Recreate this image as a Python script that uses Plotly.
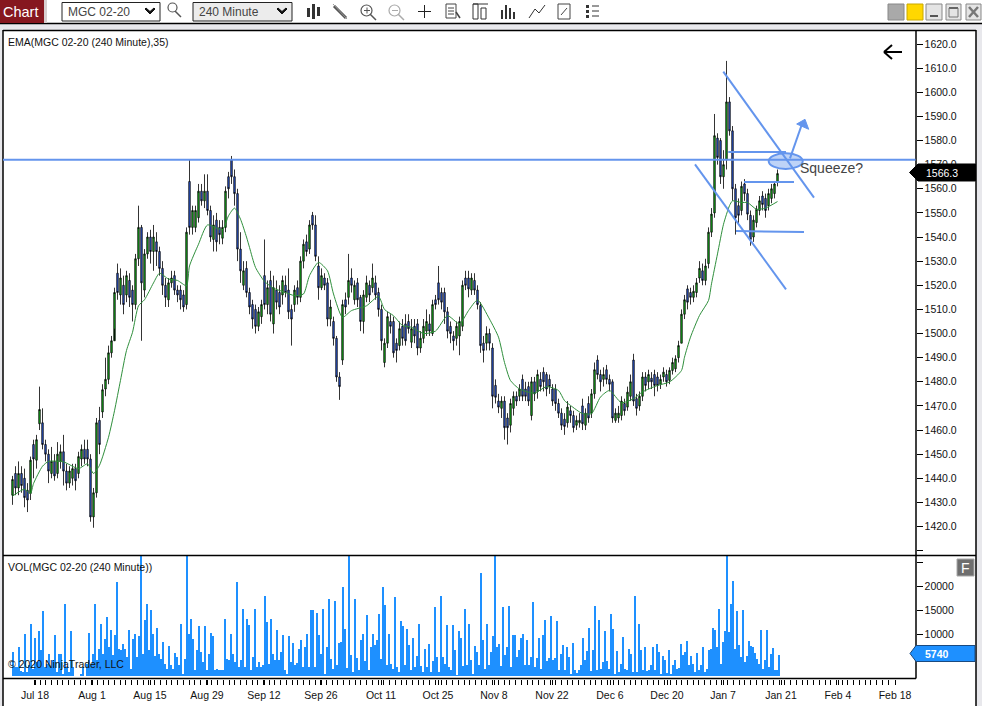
import numpy as np
import plotly.graph_objects as go

W, H = 982, 706

opens = [1433,1442,1436,1442,1440,1435,1433.7,1454,1447.5,1462.6,1463,1454,1450,1442,1447,1442,1447,1451,1443,1438,
 1440,1444,1442,1448,1452,1452,1448,1424,1434,1464,1467.5,1477,1481,1492,1497,1525,1516,1520,1516,1522,
 1518,1512,1531,1544,1518,1533,1540,1534,1538,1534,1527,1520,1514,1521,1524,1518,1518,1516,1512,1563,
 1544,1544,1548,1559,1555,1559,1551,1539,1547,1544,1539.5,1544,1565,1572,1565,1558,1535,1520,1527,1517,
 1512,1510,1503,1507,1524,1512,1522,1504,1518,1517,1516,1520,1518,1510,1512,1519,1515,1530,1538,1535,
 1549,1545,1528,1519,1523,1521,1506,1505,1498,1482,1489,1514,1515,1523,1514,1521,1515,1505,1515,1520,
 1519,1521,1517,1510,1488,1496,1505,1505,1496,1495,1503,1504,1505,1496.4,1503,1504,1494,1498,1501,1504,
 1500,1514,1521,1517,1517,1509,1503,1499,1498,1499,1503,1523,1523,1518,1522,1518,1511.6,1496,1496,1500,
 1494,1478.5,1472,1469,1472,1465,1462,1469,1474,1474,1481,1477,1478,1466,1480,1476,1481,1484,1483,1481,
 1477,1477,1471,1467,1464.5,1463,1468,1466,1462,1463,1470,1462,1471,1467,1475,1489,1483,1481,1485,1481,
 1480,1464,1465,1466,1471,1469.5,1474,1489,1473,1470,1474,1482,1480,1481.5,1483,1482,1479,1482,1483,1480.6,
 1484.7,1485.4,1490,1496,1508,1518.5,1517,1515,1517,1523,1526,1522,1529,1542,1550,1581,1580,1565,1572,1596,
 1584,1560,1553,1551,1562,1558,1549,1540,1546,1551,1557,1556,1553,1556,1558,1562.6]
highs = [1441,1445,1447,1445,1444,1438,1449,1456,1458,1478,1469,1456,1452,1453,1450,1455,1454,1458,1446,1445,
 1446,1446,1451,1454,1456,1456,1450,1436,1465,1469.6,1479,1490,1495,1499,1519,1529,1527,1524,1526,1525,
 1520,1533,1553,1545,1535,1542,1543,1545,1542,1536,1530,1523,1523,1526,1526,1520,1520,1518,1544,1572,
 1553,1553,1562,1562,1566,1566,1553,1549,1550,1547,1547,1561,1567,1573.6,1568,1560,1542,1530,1530,1519,
 1514,1512,1511,1514,1539,1522,1526,1524,1522,1520,1524,1524,1527,1512,1520,1522,1532,1539,1541,1547,
 1550.4,1549,1532,1527,1525,1523,1514,1507,1499,1484,1514,1517,1533,1527,1522,1523,1516,1518,1524,1522,
 1529,1524,1519,1512,1498,1509,1508,1507,1498,1505,1506,1508,1508,1506,1506,1506,1501,1506,1510,1508,
 1514,1516,1528,1519,1519,1511,1505,1501,1505,1507,1522,1526,1526,1525,1525,1520,1513,1499,1503,1502,
 1496,1481,1475,1474,1474,1467,1473,1476,1476,1479,1483,1480,1480,1482,1482,1485,1484,1486,1484,1483,
 1479,1479,1473,1469,1467,1472,1470,1468,1466,1467,1473,1469,1474,1477,1488,1491,1485,1486,1487,1483,
 1481,1469,1470,1474,1473,1478,1483,1491.6,1475,1476,1484,1484,1485,1484,1485,1484,1483,1486,1485,1486,
 1490,1491,1497,1510,1516,1520,1519,1520,1523,1530,1529,1531,1544,1552,1591,1583,1581,1576,1613,1598,
 1586,1562,1556,1563,1564,1560,1551,1549,1553,1557,1559,1558,1560,1562,1563,1568]
lows = [1429,1433,1433,1434,1428,1426,1431,1440,1444,1460,1452,1447,1438,1440,1439,1440,1444,1437,1435,1436,
 1437,1435,1440,1445,1446,1445,1422,1419.5,1432,1450,1465,1474,1479,1490,1502,1514,1512,1508,1513,1511,
 1505,1510,1528,1497,1515,1531,1529,1526,1528,1524,1516,1511,1511,1519,1516,1513,1510,1509,1510,1541,
 1541,1542,1546,1553,1552,1549,1538,1534,1534,1537,1537,1542,1556,1562,1553,1530,1521,1518,1515,1508,
 1502,1500,1501,1504,1510,1508,1505,1500,1510,1508,1512,1515,1506,1495,1509,1512,1513,1527,1532,1533,
 1543,1530,1514,1518,1518,1503,1503,1495,1480,1472.5,1487,1508,1512,1517,1512,1511,1501,1500,1513,1513,
 1517,1514,1507,1493,1486,1494,1500,1490,1488,1493,1495,1495,1500,1494,1496,1491,1492,1496,1499,1499,
 1499,1510,1512,1510,1504,1498,1496,1493,1495,1491,1501,1518,1515,1516,1516,1510,1492,1488,1493,1493,
 1469,1471,1467,1465,1456,1454,1459,1466,1470,1472,1472,1472,1470,1464,1472,1473,1476,1476,1474,1475,
 1470,1468,1465,1460,1458,1461,1463,1459,1460,1461,1460,1460,1463,1465,1473,1481,1476,1478,1479,1476,
 1463,1463,1463,1464,1466,1468,1472,1470,1466,1468,1472,1476,1477,1477,1474,1476,1477,1480,1478,1479,
 1483,1484,1488,1496,1506,1510,1512,1513,1515,1521,1520,1520,1527,1540,1548,1570,1562,1560,1568,1582,
 1555,1541,1545,1549,1555,1547,1536.4,1538,1544,1549,1551,1548,1551,1554,1556,1561]
closes = [1439.5,1436,1442,1437,1432,1431,1447.5,1448,1456,1468.5,1454,1450,1443,1447,1441,1450,1451,1443,1438,1443,
 1444,1439,1449,1452,1448,1448,1424,1434,1463,1454,1476.7,1481,1492,1497,1517,1517,1523,1512,1524,1515,
 1512,1531,1544,1521,1533,1540,1534,1540,1534,1527,1520,1515,1521,1523,1518,1516,1514,1511,1542,1544,
 1551,1551,1559,1555,1559,1551,1540,1545,1538,1541,1544,1559,1560,1565,1558,1535,1526,1526,1517,1511,
 1506,1503,1509,1512,1512,1519,1508,1519,1513,1511,1522,1517,1509,1506,1518,1515,1530,1537,1534,1545,
 1545,1532,1519,1524,1520,1506,1511,1498,1482,1478,1512,1511,1522,1520,1520,1514,1505,1516,1521,1516,
 1523,1516,1510,1497,1496,1507,1503,1492,1493,1502,1498,1497,1502,1502,1499,1494,1498,1503,1505,1501,
 1512,1512,1514,1513,1509,1501,1500,1497,1503,1505,1520,1520,1518.5,1523,1518,1512,1495,1493,1500,1496,
 1474,1473.6,1469.5,1472,1461,1461,1471,1474,1472,1477,1474,1474,1472,1480,1475,1483,1478,1480,1477,1478,
 1472,1471,1467,1462,1461.5,1469.5,1466,1461,1464,1464,1462.6,1467,1465,1475,1485,1483,1480,1483,1481,1479,
 1465,1467,1467,1472,1468,1475.7,1480,1472,1469,1474,1482,1478.5,1483,1480,1478.5,1478.5,1481,1484,1480,1484.7,
 1488,1489.5,1495,1508,1514,1513,1515,1517.5,1521,1527,1522,1528,1542,1549.5,1582,1573,1565,1570,1596,1584,
 1560,1548,1549,1561,1558,1549.5,1539,1547,1551.5,1555,1553.5,1551,1558,1560,1562,1566.3]

ema_bars = [0,4,6,7,10,12,17,22,25,27,29,32,34,36,38,40,42,44,47,49,52,55,58,59,62,65,70,72,74,76,78,79,81,84,87,91,94,97,99,102,
 105,107,110,113,118,122,124,127,130,133,137,141,145,149,152,155,159,162,164,166,169,174,178,182,184,186,190,193,196,199,203,207,210,215,219,223,224,226,229,232,233,235,237,239,240,243,245,248,251,255]
ema_vals = [1432.6,1435.5,1433.7,1437.8,1445,1447,1446.8,1444,1446,1442,1445.4,1457,1468,1480.6,1493,1500.5,1511.5,1514,1521,1525,1522.6,1522,1519.8,1528,1537,1545,1543,1548.8,1552,1547.4,1540,1535.7,1527.4,1521.6,1518.8,1517,1515.7,1516.4,1524,1529.5,
 1526,1516.4,1506.7,1509.5,1511.5,1515.4,1510,1507.4,1503.3,1502.6,1500,1501,1507.4,1504,1509.5,1513.9,1506,1498.5,1488,1480.5,1477,1475.3,1478,1476.4,1472.2,1470.2,1466.8,1466.8,1473.7,1476.4,1471.3,1473,1475.8,1478.5,1479.9,1484.7,1490.2,1498.5,1507.5,1513.7,1520.6,1533,1545.3,1553,1555,1554.3,1554.3,1551.5,1552,1554.7]

# volume, one reading per drawn column (0 = no bar); the spikes run off the top of the pane
volumes = [6260,3210,3210,7300,2380,2170,10150,2170,3560,12230,2860,9320,4250,10640,6680,14800,3210,3900,5850,3210,4600,9940,2170,5990,5850,1820,16260,3210,2170,10640,3210,0,0,0,1820,3210,0,3900,10290,3900,5990,16260,4600,7030,12090,5990,9110,13620,7370,10980,5640,9800,20840,7030,6680,7930,7030,5290,10840,2860,9110,10010,5290,9600,27000,5990,13060,16260,6680,15010,10150,5430,11330,5990,4950,8420,3900,2860,7510,3560,2860,6190,5290,3560,12230,1820,4950,27000,10010,13130,9110,2520,6680,11680,6330,4250,11820,2520,5990,10290,9600,2520,2860,2650,2650,2650,13130,4950,4740,10150,5990,4250,20840,3210,4600,15220,3210,13130,11890,2520,5290,15220,3210,4250,3210,3560,17920,12580,3900,13270,5990,4600,10840,4600,6330,9940,2520,1610,9600,4250,8210,3560,4040,7030,8760,3210,7370,10010,3210,15010,15010,3210,14450,9800,5990,15350,1820,7370,17440,
 4810,2860,16880,3560,8210,8350,20000,11050,3070,27000,5640,2170,17440,5150,2650,8760,10150,4390,13970,2520,7370,10010,7720,8760,14310,4950,20000,16050,3560,10010,3900,2860,17780,3210,2170,12720,11680,3560,11050,7720,2520,9320,3210,5430,12090,3350,2170,6890,3210,7930,2170,4390,15700,5290,2170,17920,5290,3900,11890,3210,2520,11890,6680,1540,10640,9320,3350,15350,3560,12230,4600,1820,7510,6330,3560,22780,8760,2860,12230,3560,6330,9600,27000,7370,7930,3350,15700,5640,7370,15840,3210,9800,9800,5290,6680,9320,10150,3560,8900,3560,5290,16740,3210,5150,9320,2860,9800,13060,4390,5150,13760,4740,5150,12720,2520,5990,7720,2650,7370,5290,1820,8210,2520,1960,2520,3560,9320,4600,6470,11400,2380,6820,15840,2520,13060,2860,4250,10640,4390,2860,14170,11190,1820,6470,2170,3770,9460,2860,2520,7030,5990,2170,17920,2170,12090,6680,2520,7370,2380,2650,3560,7370,2520,8070,6330,1680,5430,4600,1960,6680,1680,3560,4600,2860,3070,7930,5640,6330,8620,3560,
 5430,3900,2170,6120,2520,3560,7370,2170,2860,6680,7030,11400,10840,7370,15350,3900,8420,10640,27000,10500,16260,21110,7030,14800,7720,5290,15010,4250,5430,8620,7510,7370,6120,4950,3900,10840,2860,4600,10980,3210,5850,7240,2520,2520,5740]
vol_floor = 1458

date_labels = ["Jul 18","Aug 1","Aug 15","Aug 29","Sep 12","Sep 26","Oct 11","Oct 25","Nov 8","Nov 22","Dec 6","Dec 20","Jan 7","Jan 21","Feb 4","Feb 18"]
date_px = [35,92,150,207,264,321,381,438,494,552,610,667,723,781,838,895]
price_ticks = list(range(1410, 1630, 10))
price_text = ["" if p == 1410 else f"{p}.0" for p in price_ticks]
vol_ticks = [5000, 10000, 15000, 20000, 25000]
vol_text = ["", "10000", "15000", "20000", ""]
resistance = 1572
last_price = "1566.3"
last_vol = "5740"

# x axis unit: one candle slot, 3 px wide
to_slot = lambda px: (np.asarray(px, float) - 12.5) / 3
candle_x = np.arange(len(closes))
vol_x = to_slot(13 + 2 * np.arange(len(volumes)))
x_range = [float(to_slot(3)), float(to_slot(915.5))]
minor_ticks = to_slot(34.3 + 5.73 * np.arange(150)).tolist()

px_x = lambda x: x / W
px_y = lambda y: 1 - y / H
GREEN, BLUE, VOL, LINE = "#16c41e", "#2f63f0", "#1e90ff", "#6495ed"

fig = go.Figure()
fig.add_trace(go.Candlestick(x=candle_x, open=opens, high=highs, low=lows, close=closes,
    increasing=dict(fillcolor=GREEN, line=dict(color="#000000", width=0.8)),
    decreasing=dict(fillcolor=BLUE, line=dict(color="#000000", width=0.8)),
    whiskerwidth=0, xaxis="x", yaxis="y", hoverinfo="skip"))
fig.add_trace(go.Scatter(x=ema_bars, y=ema_vals, mode="lines", line=dict(color="#2f8f3c", width=1.0, shape="spline", smoothing=0.6),
    xaxis="x", yaxis="y", hoverinfo="skip"))
fig.add_trace(go.Bar(x=vol_x, y=[max(v - vol_floor, 0) for v in volumes], base=vol_floor, width=0.72,
    marker=dict(color=VOL, line=dict(width=0)), xaxis="x2", yaxis="y2", hoverinfo="skip"))

shapes, notes = [], []
def rect(x0, y0, x1, y1, fill=None, line=None, lw=1, layer="above"):
    shapes.append(dict(type="rect", xref="paper", yref="paper", x0=px_x(x0), x1=px_x(x1), y0=px_y(y0), y1=px_y(y1),
        fillcolor=fill or "rgba(0,0,0,0)", line=dict(color=line or "rgba(0,0,0,0)", width=lw if line else 0), layer=layer))
def seg(x0, y0, x1, y1, color="#000000", lw=1):
    shapes.append(dict(type="line", xref="paper", yref="paper", x0=px_x(x0), x1=px_x(x1), y0=px_y(y0), y1=px_y(y1),
        line=dict(color=color, width=lw), layer="above"))
def poly(points, fill, line=None, lw=1):
    d = "M " + " L ".join(f"{px_x(x):.5f},{px_y(y):.5f}" for x, y in points) + " Z"
    shapes.append(dict(type="path", xref="paper", yref="paper", path=d, fillcolor=fill,
        line=dict(color=line or fill, width=lw), layer="above"))
def text(x, y, s, size=10, color="#111111", anchor="left", bold=False):
    notes.append(dict(xref="paper", yref="paper", x=px_x(x), y=px_y(y), text=f"<b>{s}</b>" if bold else s, showarrow=False,
        xanchor=anchor, yanchor="middle", font=dict(family="Liberation Sans", size=size, color=color), align="left",
        borderpad=0, borderwidth=0))

# window chrome
CHROME = "#e8e8ec"
rect(0, 23, 3, H, fill=CHROME)
rect(976, 23, W, H, fill=CHROME)
rect(0, 24, W, 30, fill=CHROME)
seg(0, 23.5, W, 23.5, lw=1.5)
seg(3, 30.5, 976, 30.5, lw=1.5)
seg(3, 555.5, 976, 555.5, lw=1.5)
seg(3, 678.5, 916, 678.5, lw=1.5)
seg(916, 30, 916, 678.5, lw=1.5)
seg(3, 30, 3, H, lw=1.5)
seg(976, 30, 976, H, lw=1.5)

rect(0, 0, 44, 23, fill="#86171f")
rect(44, 0, 47, 23, fill="#d8d0d0")
text(3, 11.5, "Chart", size=14.5, color="#ffffff")
for x0, x1, label, fill in [(62, 160, "MGC 02-20", "#ffffff"), (193, 292, "240 Minute", "#ececec")]:
    rect(x0, 2.5, x1, 21, fill=fill, line="#222222", lw=1)
    text(x0 + 6, 11.5, label, size=12, color="#444444")
    poly([(x1 - 15, 9), (x1 - 10, 14), (x1 - 5, 9), (x1 - 6, 8), (x1 - 10, 11.5), (x1 - 14, 8)], "#111111")
shapes.append(dict(type="circle", xref="paper", yref="paper", x0=px_x(168), x1=px_x(177), y0=px_y(12), y1=px_y(3),
    line=dict(color="#555555", width=1.2), layer="above"))
seg(175, 11, 181, 17, "#555555", 1.5)

# toolbar icons
for x, y0, y1 in [(308, 8, 17), (313, 4, 19), (318, 7, 16)]:
    rect(x - 1, y0, x + 2, y1, fill="#333333")
seg(334, 6, 346, 18, "#555555", 3)
seg(333, 4, 347, 19, "#999999", 1)
for cx, plus in [(367, True), (395, False)]:
    shapes.append(dict(type="circle", xref="paper", yref="paper", x0=px_x(cx - 6), x1=px_x(cx + 5), y0=px_y(16), y1=px_y(5),
        line=dict(color="#555555" if plus else "#aaaaaa", width=1.2), layer="above"))
    seg(cx + 3, 14, cx + 9, 20, "#555555" if plus else "#aaaaaa", 1.5)
    seg(cx - 3, 10.5, cx + 3, 10.5, "#555555" if plus else "#aaaaaa", 1)
    if plus:
        seg(cx, 7.5, cx, 13.5, "#555555", 1)
seg(418, 11.5, 431, 11.5, "#222222", 1)
seg(424.5, 5, 424.5, 18, "#222222", 1)
rect(446, 4, 456, 18, line="#444444")
for y in (8, 11, 14):
    seg(448, y, 454, y, "#444444", 1)
seg(456, 12, 460, 18, "#444444", 1.5)
rect(473, 4, 478, 19, line="#333333")
rect(481, 8, 486, 19, line="#333333")
seg(473, 4, 488, 4, "#333333", 1)
for x, y0 in [(502, 10), (506, 5), (510, 8), (514, 12)]:
    seg(x, y0, x, 19, "#333333", 2)
for a, b in [((529, 18), (535, 9)), ((535, 9), (539, 13)), ((539, 13), (545, 5))]:
    seg(a[0], a[1], b[0], b[1], "#333333", 1)
rect(558, 4, 570, 19, line="#444444")
seg(561, 15, 567, 8, "#444444", 1)
for y in (6, 11, 16):
    rect(586, y - 1, 589, y + 2, fill="#333333")
    seg(592, y, 599, y, "#333333", 1)

rect(888, 4, 904, 20, fill="#a9a9a9", line="#888888")
rect(907, 4, 923, 20, fill="#ffd700", line="#c8a800")
rect(926, 4, 942, 20, fill="#e4e4e4", line="#888888")
seg(930, 16, 938, 16, "#555555", 2)
rect(946, 4, 961, 20, fill="#e4e4e4", line="#888888")
seg(949, 8, 958, 8, "#555555", 2)
rect(949, 8, 958, 17, line="#777777")
rect(966, 4, 981, 20, fill="#e4e4e4", line="#888888")
seg(969, 7, 978, 17, "#777777", 2.5)
seg(978, 7, 969, 17, "#777777", 2.5)

# hand drawn study lines
shapes.append(dict(type="line", xref="paper", yref="y", x0=px_x(3), x1=px_x(915.5), y0=resistance, y1=resistance,
    line=dict(color=LINE, width=2), layer="above"))
for x0, y0, x1, y1 in [(723.3, 71.7, 814, 197.7), (695, 164.3, 786, 289.3), (728.3, 152, 786, 152),
                       (744, 182, 794, 182), (736, 231, 804, 232), (790, 158.3, 802.7, 122)]:
    seg(x0, y0, x1, y1, LINE, 2)
shapes.append(dict(type="circle", xref="paper", yref="paper", x0=px_x(768.7), x1=px_x(802.7), y0=px_y(169), y1=px_y(153.3),
    fillcolor="rgba(100,149,237,0.42)", line=dict(color=LINE, width=2), layer="above"))
poly([(805, 119.3), (796.7, 124), (808.7, 129.3)], LINE)
text(800, 168, "Squeeze?", size=14, color="#444444")
seg(884, 52, 902, 52, "#000000", 2)
seg(884, 52, 892, 45, "#000000", 2)
seg(884, 52, 892, 59, "#000000", 2)

# value flags
poly([(909.5, 172.5), (918, 164), (975.5, 164), (975.5, 181), (918, 181)], "#000000")
text(926, 172.5, last_price, size=10.5, color="#ffffff")
poly([(910, 653.5), (916, 645.5), (975, 645.5), (975, 661.5), (916, 661.5)], VOL, "#1a4a80")
text(925, 653.5, last_vol, size=10.5, color="#ffffff", bold=True)
rect(957, 559, 974, 576, fill="#6e6e6e", line="#a8a8a8")
text(965.5, 567.5, "F", size=14, color="#ffffff", anchor="center")

# indicator captions
text(8, 42, "EMA(MGC 02-20 (240 Minute),35)", size=10.5)
text(8, 567, "VOL(MGC 02-20 (240 Minute))", size=10.5)
text(8, 664, "© 2020 NinjaTrader, LLC", size=10.5)

tick_font = dict(family="Liberation Sans", size=10.5, color="#111111")
fig.update_layout(
    width=W, height=H, margin=dict(l=0, r=0, t=0, b=0, pad=0), paper_bgcolor="#ffffff", plot_bgcolor="#ffffff",
    showlegend=False, bargap=0, shapes=shapes, annotations=notes, hovermode=False,
    xaxis=dict(domain=[px_x(3), px_x(915.5)], range=x_range, anchor="y", visible=False, rangeslider=dict(visible=False), matches="x2"),
    xaxis2=dict(domain=[px_x(3), px_x(915.5)], range=x_range, anchor="y2", showgrid=False, zeroline=False, showline=False,
        tickmode="array", tickvals=to_slot(date_px).tolist(), ticktext=date_labels, ticks="outside", ticklen=5, tickcolor="#000000",
        tickfont=tick_font, ticklabelstandoff=2,
        minor=dict(tickmode="array", tickvals=minor_ticks, ticks="outside", ticklen=5, tickcolor="#000000", showgrid=False)),
    yaxis=dict(domain=[px_y(555.5), px_y(30.5)], range=[1408.0, 1625.6], side="right", anchor="x", showgrid=False, zeroline=False,
        showline=False, tickmode="array", tickvals=price_ticks, ticktext=price_text, ticks="outside", ticklen=6, tickcolor="#000000", tickfont=tick_font),
    yaxis2=dict(domain=[px_y(678.5), px_y(555.5)], range=[729, 26354], side="right", anchor="x2", showgrid=False, zeroline=False,
        showline=False, tickmode="array", tickvals=vol_ticks, ticktext=vol_text, ticks="outside", ticklen=6, tickcolor="#000000", tickfont=tick_font),
)
fig.write_html("out.html", config=dict(displayModeBar=False),
    post_script="document.body.style.margin='0';document.documentElement.style.overflow='hidden';")
